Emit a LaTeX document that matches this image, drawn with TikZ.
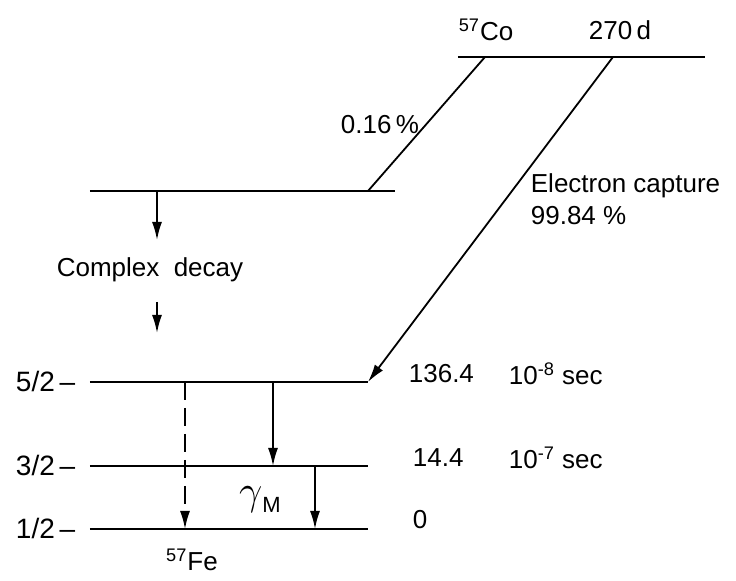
\documentclass[tikz,border=0pt]{standalone}
\usepackage{fontspec}
\setmainfont{Liberation Sans}
\usetikzlibrary{arrows.meta}

\begin{document}
\begin{tikzpicture}[x=0.5pt, y=-0.5pt, line width=0.9pt,
    every node/.style={font=\fontsize{13}{15}\selectfont, inner sep=1pt},
    spin/.style={anchor=east, font=\fontsize{14}{16}\selectfont},
    decay/.style={-{Latex[length=9pt,width=5pt]}}]
    \useasboundingbox (0,0) rectangle (736,581);

    % Niveles
    \coordinate (coL) at (458,57);   \coordinate (coR) at (705,57);
    \coordinate (midL) at (90,191);  \coordinate (midR) at (395,191);
    \coordinate (fiveL) at (90,382); \coordinate (fiveR) at (368,382);
    \coordinate (threeL) at (90,466); \coordinate (threeR) at (368,466);
    \coordinate (oneL) at (90,529);  \coordinate (oneR) at (368,529);
    \draw (coL) -- (coR);
    \draw (midL) -- (midR);
    \draw (fiveL) -- (fiveR);
    \draw (threeL) -- (threeR);
    \draw (oneL) -- (oneR);

    % Ramas desde el cobalto
    \coordinate (coA) at (485,57);  \coordinate (midA) at (368,191);
    \coordinate (coB) at (613,57);
    \draw (coA) -- (midA);
    \draw[decay] (coB) -- (fiveR);

    % Desintegracion compleja
    \coordinate (cxA) at (157,191); \coordinate (cxB) at (157,240);
    \coordinate (cxC) at (157,302); \coordinate (cxD) at (157,333);
    \draw[decay] (cxA) -- (cxB);
    \draw[decay] (cxC) -- (cxD);
    \node (cx) at (150,270) {Complex\ \ decay};

    % Transiciones del hierro
    \coordinate (dA) at (185,382); \coordinate (dB) at (185,529);
    \coordinate (gA) at (273,382); \coordinate (gB) at (273,466);
    \coordinate (mA) at (315,466); \coordinate (mB) at (315,529);
    \draw[decay, dashed, dash pattern=on 9pt off 4pt] (dA) -- (dB);
    \draw[decay] (gA) -- (gB);
    \draw[decay] (mA) -- (mB);
    \node (gam) at (260,500) {\fontsize{20}{22}\selectfont$\gamma$\raisebox{-4pt}{\fontsize{11}{13}\selectfont M}};

    % Etiquetas
    \node (co) at (486,30) {\textsuperscript{57}Co};
    \node (hl) at (620,30) {270\,d};
    \node (br1) at (380,125) {0.16\,\%};
    \node[anchor=west] (ec) at (528,186) {Electron capture};
    \node[anchor=west] (br2) at (528,216) {99.84 \%};
    \node[spin] (s5) at (78,382) {5/2\,–};
    \node[spin] (s3) at (78,466) {3/2\,–};
    \node[spin] (s1) at (78,529) {1/2\,–};
    \node[anchor=west] (e5) at (406,374) {136.4};
    \node[anchor=west] (t5) at (506,374) {10\textsuperscript{-8} sec};
    \node[anchor=west] (e3) at (410,458) {14.4};
    \node[anchor=west] (t3) at (506,458) {10\textsuperscript{-7} sec};
    \node[anchor=west] (e1) at (410,520) {0};
    \node (fe) at (192,560) {\textsuperscript{57}Fe};
\end{tikzpicture}
\end{document}
